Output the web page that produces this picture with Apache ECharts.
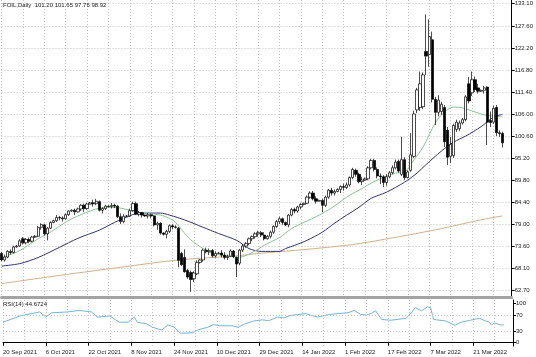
<!DOCTYPE html>
<html><head><meta charset="utf-8">
<script src="https://cdn.jsdelivr.net/npm/echarts@6/dist/echarts.min.js"></script>
<style>html,body{margin:0;padding:0;background:#fff}#c{width:536px;height:357px}</style>
</head><body><div id="c"></div>
<script>
const symbolName = 'FOIL,Daily';
const dateLabels = ['20 Sep 2021','6 Oct 2021','22 Oct 2021','8 Nov 2021','24 Nov 2021','10 Dec 2021','29 Dec 2021','14 Jan 2022','1 Feb 2022','17 Feb 2022','7 Mar 2022','21 Mar 2022'];
const priceTicks = [62.7, 68.1, 73.6, 79.0, 84.4, 89.8, 95.2, 100.6, 106.0, 111.4, 116.8, 122.2, 127.6, 133.1];
const rsiTicks = [0, 30, 70, 100];
const rsiLevels = [30, 70];
const rsiLast = '44.6724';
// [open, close, low, high]
const candles = [
[71.8,70.2,69.9,72.2],[70.2,70.9,69.8,71.5],[70.9,72.3,70.6,72.6],[72.3,72.0,71.5,72.8],[72.0,73.4,71.8,73.7],
[73.4,73.6,73.2,73.9],[73.6,74.9,73.4,75.3],[75.4,74.4,74.0,75.8],[74.4,75.2,74.0,75.6],[75.2,74.8,74.3,75.7],
[74.8,75.8,74.5,76.1],[75.8,76.0,75.6,76.3],[76.0,78.2,75.8,78.5],[78.2,78.9,77.6,79.2],[78.8,76.6,76.2,79.1],
[76.6,78.0,75.0,78.3],[78.0,79.4,77.8,79.7],[79.4,79.8,79.2,80.1],[79.8,80.6,79.5,81.2],[80.6,80.5,79.9,81.0],
[80.5,80.3,79.6,80.9],[80.3,81.3,80.1,81.6],[81.3,82.2,81.0,82.4],[82.2,82.4,82.0,82.6],[82.4,82.0,81.2,82.8],
[82.0,82.7,81.8,83.0],[82.7,83.6,82.2,83.9],[83.6,82.8,82.0,84.0],[82.8,83.9,82.5,84.2],[83.9,84.2,83.8,84.4],
[84.2,84.0,83.3,85.0],[84.0,84.6,83.6,85.2],[84.5,82.4,82.1,84.8],[82.4,82.8,81.6,83.1],[82.8,83.4,82.5,83.7],
[83.4,83.3,83.1,83.6],[83.3,83.6,82.8,84.2],[83.6,83.4,82.9,84.0],[83.4,80.8,80.4,83.7],[80.8,79.6,79.0,81.6],
[79.6,80.9,79.2,81.4],[80.9,81.0,80.7,81.2],[81.0,82.3,80.8,82.8],[82.3,84.0,82.0,84.5],[84.0,81.4,81.2,84.5],
[81.4,81.8,80.9,82.2],[81.8,81.2,80.6,82.0],[81.2,81.0,80.8,81.3],[81.0,81.3,80.4,81.7],[81.3,81.0,80.4,81.6],
[81.0,78.8,78.4,81.2],[78.8,79.2,77.6,79.6],[79.2,76.8,76.4,79.4],[76.8,76.5,76.2,77.0],[76.5,77.2,75.5,77.6],
[77.2,78.6,76.8,78.9],[78.6,78.3,77.7,79.0],[78.3,78.2,77.9,78.7],[78.0,70.1,68.4,78.3],[71.8,69.0,68.8,72.2],
[70.8,67.3,67.1,72.8],[67.6,66.0,65.6,68.0],[67.1,65.4,62.4,67.6],[65.6,67.0,64.8,67.4],[66.8,69.6,66.5,70.1],
[69.6,70.2,69.3,70.4],[70.2,72.6,69.8,73.0],[72.6,72.2,71.8,73.2],[72.2,72.5,71.4,73.0],[72.5,71.2,70.8,72.9],
[71.2,71.8,70.8,72.3],[71.8,71.9,71.6,72.1],[71.9,71.4,70.8,72.6],[71.4,70.8,70.3,72.1],[70.8,71.1,70.2,71.5],
[71.1,72.4,70.9,72.8],[72.4,71.0,70.6,72.6],[70.8,69.2,66.0,71.0],[69.4,72.6,68.9,72.9],[72.6,73.6,72.1,74.1],
[73.6,74.2,73.2,74.6],[74.2,75.4,73.8,75.7],[75.4,75.9,74.8,76.2],[75.9,76.6,75.4,77.0],[76.6,76.9,75.9,77.4],
[76.9,76.3,75.8,77.3],[76.3,75.4,75.0,77.0],[75.4,76.0,75.2,76.3],[76.0,77.0,75.5,77.4],[77.0,78.4,76.6,78.7],
[78.4,79.6,78.0,80.0],[79.6,80.3,79.0,80.8],[80.3,79.4,78.8,80.6],[79.4,78.8,78.5,79.6],[78.8,81.2,78.2,81.5],
[81.2,82.6,80.9,82.9],[82.6,82.2,81.6,83.0],[82.2,83.2,81.8,83.5],[83.2,83.8,82.6,84.2],[83.8,84.1,83.6,84.3],
[84.1,85.6,83.9,86.0],[85.6,86.6,85.2,87.0],[86.6,85.2,84.8,87.1],[85.2,84.6,84.0,85.8],[84.6,84.8,84.5,85.0],
[84.8,83.6,81.9,85.2],[83.6,85.6,83.2,86.0],[85.6,87.3,85.2,87.6],[87.3,86.6,86.0,87.9],[86.6,87.0,86.0,87.5],
[87.0,87.5,86.8,87.8],[87.5,88.2,86.6,88.5],[88.2,88.0,87.2,88.9],[88.0,88.6,87.6,89.2],[88.6,90.4,88.2,90.7],
[90.4,92.4,90.0,92.8],[92.2,91.2,90.6,92.6],[91.2,89.4,89.0,91.6],[89.4,89.8,88.6,90.6],[89.8,90.1,89.6,90.4],
[90.1,92.8,89.8,93.2],[92.8,94.6,92.4,95.0],[94.6,92.4,91.9,95.0],[92.4,90.8,90.2,92.9],[90.8,90.6,88.8,91.4],
[90.6,89.2,88.1,91.0],[89.2,90.6,88.4,91.2],[90.6,91.6,90.2,92.0],[91.6,92.8,91.2,93.4],[92.8,94.2,92.4,94.8],
[94.4,92.0,91.6,94.8],[91.2,94.8,90.8,100.4],[94.8,90.4,89.8,95.4],[90.4,91.8,90.2,92.2],[92.2,96.0,91.8,101.3],
[95.6,106.0,95.2,106.8],[107.0,111.9,106.2,112.4],[107.6,113.4,106.8,116.4],[107.8,115.6,107.2,116.2],[121.3,120.2,115.6,130.4],
[120.6,125.0,117.6,129.2],[124.2,109.6,108.8,126.2],[109.6,106.4,103.3,110.2],[106.4,109.4,105.4,110.6],[106.6,108.4,105.8,109.0],
[107.6,99.2,97.9,108.2],[102.0,95.4,93.5,102.8],[95.6,98.6,94.0,100.4],[95.8,103.2,95.2,103.6],[102.2,104.0,101.6,104.6],
[102.4,103.8,101.8,104.4],[103.8,104.6,103.4,105.0],[104.6,110.2,104.2,110.6],[113.4,109.2,108.6,115.1],[111.2,114.4,110.4,116.4],
[114.4,112.0,111.4,115.2],[112.4,111.6,111.0,113.4],[111.6,111.8,111.4,112.0],[111.8,112.4,111.0,112.9],[112.6,104.0,98.4,112.8],
[104.4,103.9,102.8,106.6],[104.0,107.4,103.6,108.0],[107.6,101.4,100.6,108.2],[101.4,101.2,100.4,102.0],[101.20,98.92,97.76,101.65]
];
// moving averages (bar index, value)
const maFastIdx = [0,6,12,17,22,27,32,37,42,45,52,55,57,59,62,66,69,73,78,82,86,91,95,99,104,108,113,117,123,129,132,135,138,142,145,148,151,155,158,164];
const maFastVal = [70.7,72.5,75.4,77.5,79.9,81.6,82.9,83.1,82.4,81.9,81.2,80.4,79.4,77.6,75.1,73.0,71.8,71.3,70.9,72.0,73.8,75.7,77.9,79.4,81.2,82.9,85.6,87.3,89.8,91.5,91.8,94.7,97.9,103.8,106.5,107.7,107.5,106.5,105.8,105.3];
const maMidIdx = [0,6,12,19,25,32,37,41,45,52,55,60,66,71,77,81,85,91,93,96,100,105,109,113,117,121,126,132,136,139,144,148,152,157,161,164];
const maMidVal = [68.7,69.3,70.8,73.3,75.5,77.5,79.4,80.7,81.7,81.7,81.2,80.0,78.2,76.7,75.0,73.0,72.3,72.3,73.0,73.8,75.0,77.0,79.2,81.2,83.1,85.3,86.8,89.3,91.5,93.6,96.9,99.1,100.6,102.9,105.2,105.9];
const maSlowIdx = [0,19,39,58,77,84,100,113,117,128,138,146,153,158,164];
const maSlowVal = [64.4,66.4,68.4,70.2,71.2,71.8,72.8,73.8,74.2,75.6,77.0,78.2,79.4,80.2,81.0];
const rsiIdx = [0,6,12,14,16,21,25,29,31,35,38,41,43,44,47,49,52,54,56,58,62,64,67,69,71,75,77,79,82,85,87,90,92,94,99,103,107,110,113,115,117,119,121,122,124,127,132,134,135,137,139,140,141,145,148,150,153,156,158,159,160,161,163,164];
const rsiVal = [52,69,78,65,76,78,82,78,65,68,52,52,65,52,48,39,32,45,40,24,25,33,39,46,43,43,39,47,55,58,56,65,63,69,74,65,72,74,76,82,72,70,76,81,59,57,62,79,89,81,91,89,59,55,44,52,57,62,55,53,46,50,45,44.7];

const FONT = 'Liberation Sans, Arial, sans-serif';
const TXT = '#1a1a1a';
const GRIDC = '#c4c4c4';
const nBars = candles.length;
const categories = Array.from({length: nBars + 3}, (_, i) => String(i));
const pairs = (ix, vals) => ix.map((x, k) => [x, vals[k]]);
const last = candles[nBars - 1];
const lastPrice = last[1];

const chart = echarts.init(document.getElementById('c'), null, {renderer: 'canvas'});
const dotted = {show: true, lineStyle: {color: GRIDC, width: 1, type: [1, 2]}};
chart.setOption({
  animation: false,
  backgroundColor: '#fff',
  title: [
    {text: symbolName + '  ' + [last[0], last[3], last[2], last[1]].map(v => v.toFixed(2)).join(' '),
     left: 3, top: 2, padding: 0, textStyle: {fontSize: 6, fontWeight: 'normal', color: TXT, fontFamily: FONT}},
    {text: 'RSI(14) ' + rsiLast, left: 3, top: 301, padding: 0,
     textStyle: {fontSize: 6, fontWeight: 'normal', color: TXT, fontFamily: FONT}}
  ],
  grid: [
    {left: 1.5, top: 0, width: 511.5, height: 297},
    {left: 1.5, top: 300, width: 511.5, height: 46}
  ],
  xAxis: [
    {type: 'category', gridIndex: 0, data: categories, boundaryGap: false,
     axisLine: {show: true, lineStyle: {color: '#a3a3a3', width: 3}},
     axisTick: {show: false}, axisLabel: {show: false},
     splitLine: Object.assign({interval: (i) => i % 7 === 0}, dotted)},
    {type: 'category', gridIndex: 1, data: categories, boundaryGap: false,
     axisLine: {show: true, lineStyle: {color: '#000', width: 1}},
     axisTick: {show: true, length: 3, interval: (i) => i % 14 === 0, lineStyle: {color: '#000'}},
     axisLabel: {show: true, interval: (i) => i % 14 === 0, align: 'left', margin: 3,
       formatter: (v, i) => dateLabels[i / 14] || '', fontSize: 6, color: TXT, fontFamily: FONT},
     splitLine: Object.assign({interval: (i) => i % 7 === 0}, dotted)}
  ],
  yAxis: [
    {type: 'value', gridIndex: 0, position: 'right', min: 61.11, max: 133.96,
     axisLine: {show: true, lineStyle: {color: '#000'}},
     axisTick: {show: true, length: 3, customValues: priceTicks, lineStyle: {color: '#000'}},
     axisLabel: {show: true, customValues: priceTicks, formatter: v => v.toFixed(2), margin: 3,
       fontSize: 6, color: TXT, fontFamily: FONT},
     splitLine: dotted},
    {type: 'value', gridIndex: 1, position: 'right', min: -8.4, max: 108.4,
     axisLine: {show: true, lineStyle: {color: '#000'}},
     axisTick: {show: true, length: 3, customValues: rsiTicks, lineStyle: {color: '#000'}},
     axisLabel: {show: true, customValues: rsiTicks, margin: 3, fontSize: 6, color: TXT, fontFamily: FONT},
     splitLine: {show: false}}
  ],
  series: [
    {type: 'line', xAxisIndex: 0, yAxisIndex: 0, data: pairs(maSlowIdx, maSlowVal), showSymbol: false, smooth: 0.3,
     lineStyle: {color: '#cdb08c', width: 1}, z: 2},
    {type: 'line', xAxisIndex: 0, yAxisIndex: 0, data: pairs(maMidIdx, maMidVal), showSymbol: false, smooth: 0.3,
     lineStyle: {color: '#34346e', width: 1}, z: 2},
    {type: 'line', xAxisIndex: 0, yAxisIndex: 0, data: pairs(maFastIdx, maFastVal), showSymbol: false, smooth: 0.3,
     lineStyle: {color: '#8fbf9a', width: 1}, z: 2},
    {type: 'candlestick', xAxisIndex: 0, yAxisIndex: 0, data: candles, barWidth: 2.8, clip: false, z: 3,
     itemStyle: {color: '#ffffff', color0: '#000000', borderColor: '#000000', borderColor0: '#000000', borderWidth: 0.7},
     markLine: {silent: true, symbol: 'none', data: [{yAxis: lastPrice}],
       lineStyle: {opacity: 0},
       label: {show: true, position: 'end', distance: 1, formatter: lastPrice.toFixed(2),
         backgroundColor: '#000', color: '#fff', fontSize: 6, fontFamily: FONT, padding: [1, 2, 1, 2]}}},
    {type: 'line', xAxisIndex: 1, yAxisIndex: 1, data: pairs(rsiIdx, rsiVal), showSymbol: false,
     lineStyle: {color: '#78b4d6', width: 1},
     markLine: {silent: true, symbol: 'none', label: {show: false},
       lineStyle: {color: GRIDC, width: 1, type: [1, 2]},
       data: rsiLevels.map(v => ({yAxis: v}))}}
  ]
});
</script></body></html>
